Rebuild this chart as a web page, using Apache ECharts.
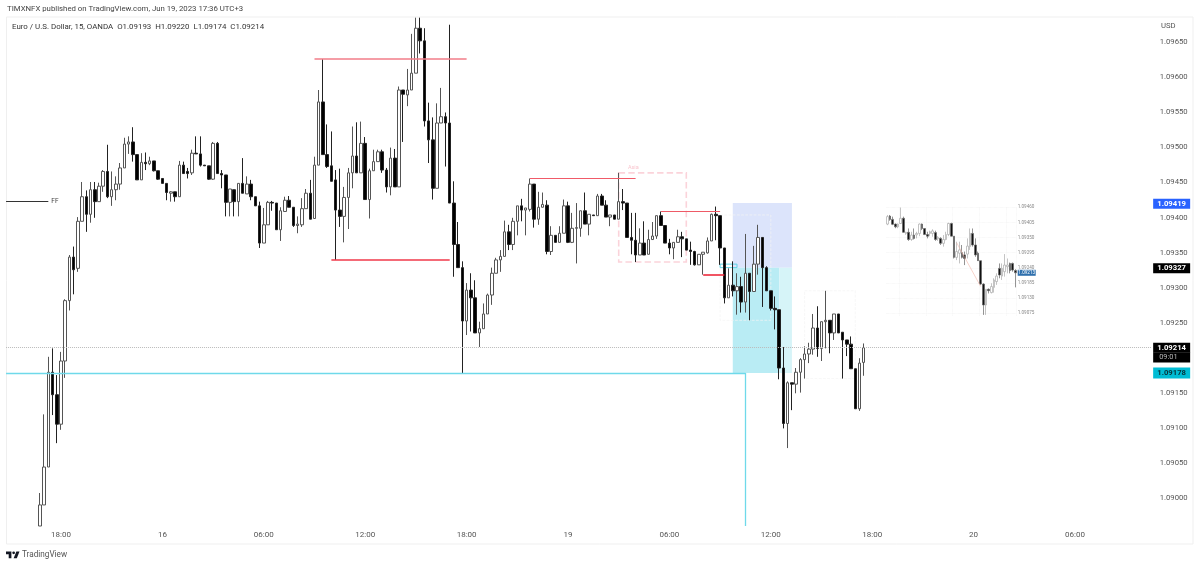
<!DOCTYPE html>
<html><head><meta charset="utf-8">
<script src="https://cdn.jsdelivr.net/npm/echarts@6/dist/echarts.min.js"></script>
<style>html,body{margin:0;padding:0;background:#fff}#c{width:1200px;height:567px}</style>
</head><body><div id="c"></div>
<script>
// Main chart: 15-minute EUR/USD. First bar is five bars before the "18:00" tick.
const opens=[1.08960,1.08990,1.09044,1.09179,1.09147,1.09105,1.09195,1.09281,1.09343,1.09327,1.09394,1.09429,1.09404,1.09439,1.09422,1.09444,1.09465,1.09429,1.09439,1.09447,1.09470,1.09504,1.09507,1.09489,1.09453,1.09478,1.09476,1.09480,1.09466,1.09455,1.09448,1.09434,1.09436,1.09429,1.09474,1.09465,1.09463,1.09491,1.09490,1.09474,1.09473,1.09454,1.09505,1.09462,1.09460,1.09421,1.09439,1.09422,1.09448,1.09433,1.09447,1.09429,1.09416,1.09363,1.09389,1.09421,1.09420,1.09382,1.09408,1.09424,1.09414,1.09388,
1.09389,1.09412,1.09434,1.09398,1.09474,1.09564,1.09489,1.09473,1.09453,1.09410,1.09401,1.09428,1.09463,1.09487,1.09463,1.09505,1.09425,1.09466,1.09479,1.09493,1.09467,1.09443,1.09484,1.09443,1.09581,1.09574,1.09581,1.09605,1.09669,1.09651,1.09537,1.09510,1.09441,1.09534,1.09543,1.09534,1.09420,1.09361,1.09328,1.09252,1.09296,1.09285,1.09235,1.09241,1.09262,1.09289,1.09320,1.09339,1.09344,1.09379,1.09361,1.09394,1.09416,1.09410,1.09411,1.09447,1.09397,1.09414,1.09417,1.09351,1.09374,1.09364,1.09377,1.09416,1.09364,1.09384,1.09384,1.09409,1.09390,1.09403,1.09402,1.09430,1.09417,1.09400,1.09403,1.09397,1.09422,1.09420,1.09371,1.09367,1.09346,1.09363,1.09347,1.09368,1.09373,1.09402,1.09388,1.09363,1.09356,1.09364,1.09372,1.09369,1.09353,1.09351,1.09332,1.09347,1.09349,1.09366,1.09404,1.09402,1.09356,1.09285,1.09303,1.09295,1.09301,1.09279,1.09320,1.09294,1.09333,1.09371,1.09328,1.09295,1.09270,1.09268,1.09185,1.09106,1.09164,1.09162,1.09179,1.09197,1.09205,1.09212,1.09242,1.09213,1.09251,1.09253,1.09235,1.09262,1.09236,1.09225,1.09219,1.09184,1.09127,1.09193];
const closes=[1.08990,1.09044,1.09179,1.09147,1.09105,1.09195,1.09281,1.09343,1.09325,1.09394,1.09429,1.09404,1.09439,1.09422,1.09444,1.09465,1.09429,1.09439,1.09447,1.09470,1.09504,1.09507,1.09489,1.09453,1.09478,1.09476,1.09480,1.09466,1.09454,1.09448,1.09435,1.09436,1.09429,1.09474,1.09462,1.09462,1.09491,1.09490,1.09474,1.09473,1.09454,1.09505,1.09462,1.09460,1.09421,1.09440,1.09422,1.09448,1.09434,1.09447,1.09429,1.09416,1.09363,1.09389,1.09421,1.09420,1.09382,1.09409,1.09424,1.09414,1.09388,1.09390,
1.09412,1.09434,1.09397,1.09474,1.09564,1.09489,1.09472,1.09451,1.09410,1.09401,1.09428,1.09463,1.09487,1.09463,1.09505,1.09425,1.09466,1.09479,1.09493,1.09467,1.09443,1.09484,1.09443,1.09581,1.09575,1.09581,1.09605,1.09669,1.09651,1.09537,1.09510,1.09441,1.09534,1.09543,1.09534,1.09420,1.09361,1.09328,1.09252,1.09296,1.09285,1.09235,1.09241,1.09262,1.09289,1.09320,1.09339,1.09344,1.09379,1.09361,1.09394,1.09416,1.09410,1.09413,1.09447,1.09397,1.09414,1.09418,1.09351,1.09374,1.09364,1.09377,1.09416,1.09364,1.09384,1.09385,1.09409,1.09390,1.09404,1.09402,1.09430,1.09417,1.09400,1.09403,1.09397,1.09422,1.09420,1.09371,1.09367,1.09346,1.09363,1.09346,1.09368,1.09373,1.09402,1.09388,1.09363,1.09356,1.09364,1.09372,1.09369,1.09353,1.09351,1.09332,1.09347,1.09350,1.09366,1.09404,1.09402,1.09356,1.09285,1.09303,1.09295,1.09301,1.09279,1.09320,1.09294,1.09333,1.09371,1.09328,1.09295,1.09270,1.09268,1.09185,1.09106,1.09164,1.09162,1.09179,1.09197,1.09205,1.09212,1.09242,1.09213,1.09251,1.09253,1.09235,1.09262,1.09235,1.09225,1.09219,1.09184,1.09127,1.09192,1.09214];
const highs=[1.09007,1.09119,1.09201,1.09213,1.09175,1.09208,1.09283,1.09346,1.09358,1.09400,1.09450,1.09438,1.09450,1.09450,1.09449,1.09467,1.09503,1.09465,1.09458,1.09477,1.09513,1.09515,1.09528,1.09489,1.09491,1.09492,1.09486,1.09480,1.09466,1.09455,1.09448,1.09437,1.09436,1.09480,1.09479,1.09470,1.09496,1.09515,1.09515,1.09474,1.09473,1.09507,1.09507,1.09467,1.09460,1.09440,1.09439,1.09448,1.09484,1.09458,1.09453,1.09429,1.09422,1.09413,1.09423,1.09423,1.09420,1.09414,1.09429,1.09430,1.09414,1.09401,
1.09427,1.09440,1.09453,1.09486,1.09581,1.09625,1.09532,1.09522,1.09467,1.09469,1.09443,1.09470,1.09529,1.09535,1.09536,1.09514,1.09469,1.09496,1.09496,1.09496,1.09470,1.09499,1.09497,1.09586,1.09581,1.09611,1.09661,1.09684,1.09684,1.09669,1.09563,1.09542,1.09562,1.09584,1.09549,1.09674,1.09451,1.09393,1.09337,1.09306,1.09320,1.09310,1.09251,1.09277,1.09291,1.09328,1.09342,1.09353,1.09395,1.09389,1.09399,1.09416,1.09426,1.09413,1.09455,1.09447,1.09436,1.09435,1.09424,1.09387,1.09374,1.09387,1.09425,1.09422,1.09406,1.09420,1.09409,1.09435,1.09404,1.09403,1.09433,1.09433,1.09424,1.09403,1.09403,1.09463,1.09440,1.09420,1.09406,1.09406,1.09384,1.09394,1.09382,1.09393,1.09402,1.09408,1.09388,1.09369,1.09364,1.09382,1.09379,1.09369,1.09365,1.09352,1.09347,1.09350,1.09371,1.09405,1.09415,1.09402,1.09356,1.09327,1.09337,1.09320,1.09315,1.09376,1.09320,1.09359,1.09389,1.09371,1.09330,1.09295,1.09287,1.09268,1.09215,1.09166,1.09164,1.09185,1.09199,1.09216,1.09221,1.09262,1.09273,1.09251,1.09295,1.09253,1.09262,1.09262,1.09236,1.09225,1.09230,1.09184,1.09199,1.09220];
const lows=[1.08960,1.08990,1.09044,1.09118,1.09078,1.09097,1.09171,1.09267,1.09290,1.09322,1.09394,1.09379,1.09392,1.09399,1.09422,1.09436,1.09427,1.09416,1.09424,1.09439,1.09470,1.09490,1.09479,1.09453,1.09453,1.09467,1.09474,1.09465,1.09453,1.09448,1.09424,1.09422,1.09422,1.09429,1.09462,1.09455,1.09460,1.09490,1.09472,1.09473,1.09453,1.09453,1.09462,1.09441,1.09401,1.09401,1.09401,1.09401,1.09434,1.09433,1.09424,1.09416,1.09356,1.09363,1.09389,1.09409,1.09382,1.09366,1.09408,1.09414,1.09386,1.09377,
1.09386,1.09412,1.09397,1.09398,1.09474,1.09489,1.09470,1.09451,1.09339,1.09386,1.09364,1.09383,1.09441,1.09463,1.09463,1.09425,1.09398,1.09466,1.09479,1.09463,1.09435,1.09431,1.09443,1.09443,1.09507,1.09558,1.09581,1.09605,1.09633,1.09529,1.09477,1.09425,1.09441,1.09534,1.09472,1.09420,1.09315,1.09328,1.09177,1.09232,1.09237,1.09235,1.09215,1.09241,1.09262,1.09275,1.09320,1.09322,1.09344,1.09353,1.09353,1.09374,1.09394,1.09374,1.09408,1.09385,1.09389,1.09414,1.09347,1.09346,1.09364,1.09364,1.09377,1.09363,1.09363,1.09334,1.09372,1.09390,1.09374,1.09402,1.09402,1.09417,1.09400,1.09387,1.09397,1.09397,1.09410,1.09371,1.09347,1.09336,1.09346,1.09346,1.09347,1.09368,1.09369,1.09388,1.09363,1.09347,1.09340,1.09364,1.09343,1.09353,1.09332,1.09331,1.09332,1.09318,1.09348,1.09366,1.09367,1.09332,1.09277,1.09285,1.09287,1.09261,1.09264,1.09264,1.09253,1.09294,1.09318,1.09272,1.09295,1.09267,1.09240,1.09169,1.09099,1.09071,1.09125,1.09149,1.09150,1.09170,1.09192,1.09204,1.09201,1.09195,1.09213,1.09206,1.09225,1.09235,1.09170,1.09202,1.09184,1.09127,1.09124,1.09174];
const firstBar=-5;                 // bar number of the first candle, 0 = "18:00" tick
const tickLabels={0:'18:00',24:'16',48:'06:00',72:'12:00',96:'18:00',120:'19',144:'06:00',168:'12:00',192:'18:00',216:'20',240:'06:00'};
const priceTicks=[1.09650,1.09600,1.09550,1.09500,1.09450,1.09400,1.09350,1.09300,1.09250,1.09150,1.09100,1.09050,1.09000];
const priceTags={'1.09419':['t1','1.09419'],'1.09327':['t2','1.09327'],'1.09214':['t2','1.09214'],'1.09200':['t3','09:01'],'1.09178':['t4','1.09178']};

// Inset picture
const miniOpens=[1.09399,1.09428,1.09416,1.09399,1.09389,1.09401,1.09420,1.09365,1.09369,1.09343,1.09359,1.09360,1.09365,1.09399,1.09383,1.09361,1.09365,1.09365,1.09368,1.09346,1.09347,1.09329,1.09343,1.09361,1.09401,1.09355,1.09278,1.09293,1.09295,1.09287,1.09290,1.09317,1.09365,1.09323,1.09293,1.09266,1.09181,1.09105,1.09162,1.09150,1.09169,1.09190,1.09238,1.09210,1.09226,1.09244,1.09256,1.09256,1.09230];
const miniHighs=[1.09432,1.09432,1.09426,1.09401,1.09401,1.09459,1.09426,1.09371,1.09383,1.09371,1.09383,1.09371,1.09401,1.09401,1.09383,1.09371,1.09375,1.09380,1.09375,1.09355,1.09351,1.09359,1.09371,1.09404,1.09404,1.09355,1.09335,1.09335,1.09323,1.09299,1.09347,1.09383,1.09383,1.09347,1.09299,1.09266,1.09184,1.09162,1.09165,1.09184,1.09202,1.09220,1.09256,1.09256,1.09290,1.09274,1.09259,1.09259,1.09235];
const miniLows=[1.09395,1.09411,1.09395,1.09384,1.09384,1.09399,1.09368,1.09360,1.09338,1.09338,1.09343,1.09347,1.09355,1.09377,1.09359,1.09347,1.09355,1.09353,1.09338,1.09338,1.09323,1.09317,1.09340,1.09355,1.09355,1.09274,1.09268,1.09256,1.09274,1.09250,1.09274,1.09305,1.09317,1.09280,1.09266,1.09178,1.09069,1.09069,1.09147,1.09147,1.09150,1.09178,1.09202,1.09196,1.09208,1.09220,1.09220,1.09226,1.09169];
const miniCloses=[1.09426,1.09416,1.09398,1.09389,1.09399,1.09420,1.09369,1.09369,1.09343,1.09359,1.09347,1.09365,1.09399,1.09383,1.09361,1.09355,1.09371,1.09374,1.09343,1.09351,1.09329,1.09343,1.09361,1.09401,1.09355,1.09278,1.09299,1.09305,1.09278,1.09274,1.09319,1.09365,1.09323,1.09287,1.09266,1.09181,1.09105,1.09162,1.09157,1.09172,1.09196,1.09210,1.09214,1.09238,1.09250,1.09250,1.09230,1.09232,1.09222];
const miniTicks=[1.09460,1.09405,1.09350,1.09295,1.09240,1.09185,1.09130,1.09075];
const miniLast=1.09222, miniLastLabel='1.09213';
const miniPath=[[26,1.09331],[35,1.09172]];

const BAND=4.225, OFFSET=13, CATS=272;
const cat=i=>i+OFFSET;
const categories=Array.from({length:CATS},(_,k)=>String(k));
const candleData=opens.map((o,i)=>[o,closes[i],lows[i],highs[i]]);
const candles=Array.from({length:CATS},(_,k)=>{const d=candleData[k-OFFSET-firstBar];return d||'-';});
const miniCats=miniOpens.map((_,i)=>String(i));
const miniData=miniOpens.map((o,i)=>[o,miniCloses[i],miniLows[i],miniHighs[i]]);
const BOTTOM=1.08960, TOP=1.09685;

const seg=(x1,p1,x2,p2,color,width,type)=>[{coord:[cat(x1),p1],lineStyle:{color,width,type:type||'solid'}},{coord:[cat(x2),p2]}];
const area=(x1,p1,x2,p2,style,label)=>[{coord:[cat(x1),p1],itemStyle:style,label:label||{show:false}},{coord:[cat(x2),p2]}];
const LEFT=-OFFSET;
const RIGHT=CATS-OFFSET-1;
const noFill='rgba(0,0,0,0)';
const chart=echarts.init(document.getElementById('c'),null,{renderer:'canvas'});
const txt=(x,y,t,size,color,extra)=>({type:'text',x,y,silent:true,z:50,style:Object.assign({text:t,fontFamily:'Roboto, sans-serif',fontSize:size,fill:color,verticalAlign:'middle'},extra||{})});
chart.setOption({
 animation:false,backgroundColor:'#fff',
 textStyle:{fontFamily:'Roboto, sans-serif'},
 grid:[{left:3.96,top:17,width:BAND*CATS,height:509,containLabel:false},
       {left:886,top:207,width:130.7,height:109,containLabel:false}],
 xAxis:[{type:'category',data:categories,gridIndex:0,boundaryGap:true,axisLine:{show:false},axisTick:{show:false},splitLine:{show:false},
   axisLabel:{interval:(k)=>tickLabels[k-OFFSET]!==undefined,formatter:(v)=>tickLabels[+v-OFFSET]||'',color:'#555',fontSize:8,margin:5,hideOverlap:false}},
  {type:'category',data:miniCats,gridIndex:1,axisLine:{show:false},axisTick:{show:false},axisLabel:{show:false},
   splitLine:{show:true,interval:(k)=>k%10===5,lineStyle:{color:'#eee',type:'dotted',width:0.6}}}],
 yAxis:[{type:'value',gridIndex:0,position:'right',min:BOTTOM,max:TOP,scale:true,axisLine:{show:false},axisTick:{show:false,customValues:priceTicks},splitLine:{show:false},
   axisLabel:{customValues:priceTicks.concat(Object.keys(priceTags).map(Number)),margin:0,align:'left',color:'#555',fontSize:7.7,
     formatter:(v)=>{const k=(+v).toFixed(5),t=priceTags[k];return t?`{${t[0]}|${t[1]}}`:`{n|${k}}`;},
     rich:{n:{width:37,align:'center',color:'#555',fontSize:7.7,height:10,lineHeight:10,padding:[1,0,0,2]},
       t1:{width:37,height:10,lineHeight:10,align:'center',color:'#fff',fontWeight:'bold',fontSize:7.7,backgroundColor:'#2962ff'},
       t2:{width:37,height:10,lineHeight:10,align:'center',color:'#fff',fontWeight:'bold',fontSize:7.7,backgroundColor:'#000'},
       t3:{width:31,height:10,lineHeight:10,align:'left',padding:[0,0,0,6],color:'#bbb',fontSize:7.4,backgroundColor:'#000'},
       t4:{width:37,height:11,lineHeight:11,align:'center',color:'#06333a',fontWeight:'bold',fontSize:7.7,backgroundColor:'#00bcd4'}}}},
  {type:'value',gridIndex:1,position:'right',min:1.09065,max:1.09461,scale:true,axisLine:{show:false},axisTick:{show:false,customValues:miniTicks},
   splitLine:{show:true,lineStyle:{color:'#eee',type:'dotted',width:0.6}},
   axisLabel:{customValues:miniTicks.concat([miniLast]),margin:1,align:'left',color:'#888',fontSize:4.6,
     formatter:(v)=>Math.abs(v-miniLast)<1e-7?`{l|${miniLastLabel}}`:(+v).toFixed(5),
     rich:{l:{color:'#fff',fontSize:4.6,backgroundColor:'#2f70ad',width:18,height:6,lineHeight:6,align:'center'}}}}],
 series:[
  {name:'zones',type:'line',data:[],xAxisIndex:0,yAxisIndex:0,z:1,silent:true,
   markArea:{silent:true,data:[
     area(159,1.09420,173,1.09328,{color:'#dce4fb'}),
     area(159,1.09328,170,1.09178,{color:'#b9ecf4'}),
     area(170,1.09328,173,1.09178,{color:'#d6f4f8'}),
     area(132,1.09463,148,1.09336,{color:noFill,borderColor:'#fbd3da',borderWidth:1.6,borderType:'dashed'},
       {show:true,formatter:'Asia',position:'insideTopLeft',color:'#f9c6cf',fontSize:5.5,offset:[5,-12]}),
     area(156,1.09403,168,1.09253,{color:noFill,borderColor:'#f3f3f3',borderWidth:0.7,borderType:'dashed'}),
     area(176,1.09295,188,1.09170,{color:noFill,borderColor:'#f3f3f3',borderWidth:0.7,borderType:'dashed'})
   ]}},
  {name:'EUR/USD',type:'candlestick',data:candles,xAxisIndex:0,yAxisIndex:0,z:3,barWidth:3,silent:true,
   itemStyle:{color:'#fff',borderColor:'#555',color0:'#000',borderColor0:'#222',borderWidth:1}},
  {name:'drawings',type:'line',data:[],xAxisIndex:0,yAxisIndex:0,z:5,silent:true,
   markArea:{silent:true,data:[area(156,1.09333,160,1.09328,{color:noFill,borderColor:'#5fd3e4',borderWidth:1})]},
   markLine:{silent:true,symbol:'none',animation:false,label:{show:false},data:[
     seg(LEFT,1.09214,RIGHT,1.09214,'#bbb',1,'dotted'),
     seg(LEFT,1.09178,162,1.09178,'#6fd9ea',1.3),
     seg(162,1.09178,162,BOTTOM,'#6fd9ea',1.3),
     seg(60,1.09625,96,1.09625,'#f27c88',1.7),
     seg(64,1.09339,92,1.09339,'#f0384a',1.6),
     seg(111,1.09455,136,1.09455,'#f05a68',1.2),
     seg(142,1.09408,156,1.09408,'#ee5a66',1.1),
     seg(152,1.09318,157,1.09318,'#ee2a3c',1.6),
     [{coord:[cat(LEFT),1.09422],lineStyle:{color:'#333',width:1,type:'solid'},label:{show:true,position:'end',formatter:'FF',color:'#444',fontSize:6.5,distance:3}},{coord:[cat(-3),1.09422]}]
   ]}},
  {name:'inset',type:'candlestick',data:miniData,xAxisIndex:1,yAxisIndex:1,z:3,barWidth:2,silent:true,
   itemStyle:{color:'#fff',borderColor:'#aaa',color0:'#111',borderColor0:'#666',borderWidth:0.7},
   markLine:{silent:true,symbol:'none',animation:false,label:{show:false},lineStyle:{color:'#d8dde2',width:1.2,type:'solid'},z:1,data:[{yAxis:miniLast}]}},
  {name:'insetPath',type:'line',xAxisIndex:1,yAxisIndex:1,z:6,silent:true,showSymbol:true,symbol:'circle',symbolSize:3,
   lineStyle:{color:'#f2b5a8',width:0.6},
   data:[{value:miniPath[0],itemStyle:{color:'#ef4c3c'}},{value:miniPath[1],itemStyle:{color:'#2f8cf0'}}]}
 ],
 graphic:[
  {type:'rect',silent:true,z:0,shape:{x:6.5,y:17,width:1186.5,height:527},style:{fill:noFill,stroke:'#efefef',lineWidth:1}},
  txt(7,9.5,'TIMXNFX published on TradingView.com, Jun 19, 2023 17:36 UTC+3',7.8,'#444'),
  txt(12,27,'Euro / U.S. Dollar, 15, OANDA  O1.09193  H1.09220  L1.09174  C1.09214',7.9,'#333'),
  txt(1161,26,'USD',7.7,'#555'),
  {type:'group',x:5.1,y:548.8,scaleX:0.45,scaleY:0.45,silent:true,z:50,children:[
    {type:'polygon',silent:true,z:50,shape:{points:[[2,6],[14,6],[14,21],[8,21],[8,12],[2,12]]},style:{fill:'#131722'}},
    {type:'circle',silent:true,z:50,shape:{cx:19,cy:9,r:3},style:{fill:'#131722'}},
    {type:'polygon',silent:true,z:50,shape:{points:[[26,21],[19,21],[25,6],[32,6]]},style:{fill:'#131722'}}
  ]},
  txt(22,555,'TradingView',8.2,'#555')
 ]
});
</script></body></html>
